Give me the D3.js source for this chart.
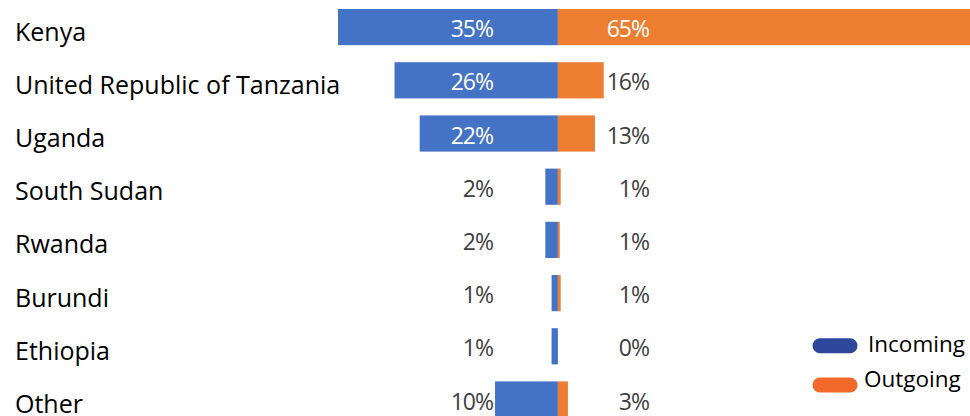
<!DOCTYPE html>
<html>
<head>
<meta charset="utf-8">
<script src="https://cdn.jsdelivr.net/npm/d3@7"></script>
<style>
  body { margin: 0; background: #fff; }
  svg text { font-family: "Open Sans", Lato, sans-serif; }
</style>
</head>
<body>
<svg id="chart"></svg>
<script>
// Countries, top to bottom
const countries = ['Kenya', 'United Republic of Tanzania', 'Uganda', 'South Sudan',
    'Rwanda', 'Burundi', 'Ethiopia', 'Other'];

// Percent labels
const incoming = [35, 26, 22, 2, 2, 1, 1, 10];
const outgoing = [65, 16, 13, 1, 1, 1, 0, 3];

// Outgoing bar lengths as drawn (same units as incoming)
const outgoingBar = [65.6, 7.3, 5.9, 0.45, 0.3, 0.45, 0, 1.6];

const legendKeys = ['Incoming', 'Outgoing'];

const width = 970;
const height = 416;

const svg = d3.select('#chart')
    .attr('width', width)
    .attr('height', height);

// x: negative side incoming, positive side outgoing
const xScale = d3.scaleLinear()
    .domain([-d3.max(incoming), d3.max(outgoingBar)])
    .range([338, 970]);

const yScale = d3.scaleBand()
    .domain(countries)
    .range([0.5, 426.1])
    .paddingInner(0.32)
    .paddingOuter(0.16);

const rows = countries.map((c, i) => ({
    country: c, inc: incoming[i], out: outgoing[i], outBar: outgoingBar[i]
}));

const blue = '#4472C4';
const orange = '#ED7D31';
const valueSize = 23;
const incLabelX = 493;
const outLabelX = 649;

let mid = d => yScale(d.country) + yScale.bandwidth() / 2;

// category labels
svg.append('g')
    .selectAll('text')
    .data(rows)
    .enter()
    .append('text')
    .attr('x', 15)
    .attr('y', d => mid(d) + 13.5)
    .attr('font-size', 25)
    .attr('fill', '#000')
    .text(d => d.country);

// incoming bars
svg.append('g')
    .selectAll('rect')
    .data(rows)
    .enter()
    .append('rect')
    .attr('x', d => xScale(-d.inc))
    .attr('y', d => yScale(d.country))
    .attr('width', d => xScale(0) - xScale(-d.inc))
    .attr('height', yScale.bandwidth())
    .attr('fill', blue);

// outgoing bars
svg.append('g')
    .selectAll('rect')
    .data(rows)
    .enter()
    .append('rect')
    .attr('x', xScale(0))
    .attr('y', d => yScale(d.country))
    .attr('width', d => xScale(d.outBar) - xScale(0))
    .attr('height', yScale.bandwidth())
    .attr('fill', orange);

// value labels
svg.append('g')
    .selectAll('text')
    .data(rows)
    .enter()
    .append('text')
    .attr('x', incLabelX)
    .attr('y', d => mid(d) + 10)
    .attr('text-anchor', 'end')
    .attr('font-size', valueSize)
    .attr('letter-spacing', -1)
    .attr('fill', d => xScale(-d.inc) < incLabelX - 50 ? '#fff' : '#404040')
    .text(d => d.inc + '%');

svg.append('g')
    .selectAll('text')
    .data(rows)
    .enter()
    .append('text')
    .attr('x', outLabelX)
    .attr('y', d => mid(d) + 10)
    .attr('text-anchor', 'end')
    .attr('font-size', valueSize)
    .attr('letter-spacing', -1)
    .attr('fill', d => xScale(d.outBar) > outLabelX ? '#fff' : '#404040')
    .text(d => d.out + '%');

// legend
const legendColors = ['#2D479C', '#F2692A'];
const legendPillY = [345.7, 385];
const legendTextX = [868, 864];
const legendTextY = [351.7, 386.7];

const legend = svg.append('g')
    .selectAll('g')
    .data(legendKeys)
    .enter()
    .append('g');

legend.append('rect')
    .attr('x', 812.5)
    .attr('y', (d, i) => legendPillY[i] - 7.5)
    .attr('width', 45)
    .attr('height', 15)
    .attr('rx', 7.5)
    .attr('fill', (d, i) => legendColors[i]);

legend.append('text')
    .attr('x', (d, i) => legendTextX[i])
    .attr('y', (d, i) => legendTextY[i])
    .attr('font-size', 22.5)
    .attr('fill', '#000')
    .text(d => d);
</script>
</body>
</html>
